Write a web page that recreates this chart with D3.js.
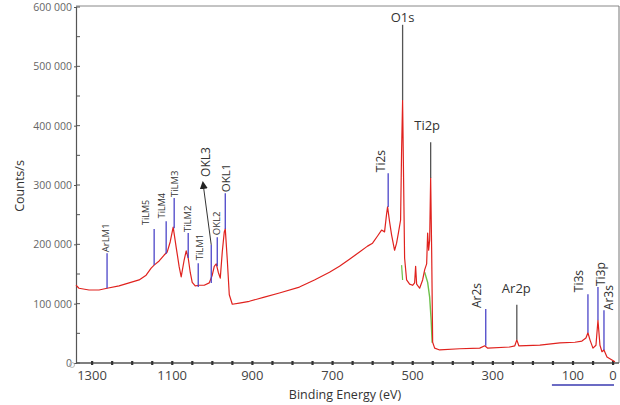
<!DOCTYPE html>
<html><head><meta charset="utf-8">
<script src="https://cdn.jsdelivr.net/npm/d3@7"></script>
<style>body{margin:0;background:#fff}svg{display:block}</style>
</head><body>
<svg id="c" width="620" height="405"></svg>
<script>
// ---- data ----
const energy = [1340,1332.5,1307.5,1282.5,1262.5,1232.5,1207.5,1182.5,1165,1152.5,1145,1132.5,1120,1112.5,1105,1097.5,1090,1082.5,1077.5,1070,1065,1060,1055,1050,1042.5,1032.5,1020,1007.5,1000,995,990,985,980,975,970,967.5,962.5,957.5,950,932.5,907.5,870,832.5,782.5,745,707.5,682.5,657.5,632.5,612.5,600,587.5,577.5,570,565,562.5,557.5,552.5,545,540,535,530,527.5,525,522.5,520,515,507.5,500,495,492.5,490,482.5,475,470,465,462.5,460,457.5,455,452.5,450,445,432.5,382.5,332.5,320,312.5,257.5,245,240,235,182.5,132.5,95,77.5,67.5,62.5,57.5,50,42.5,37.5,32.5,27.5,22.5,15,2.5,-5];
const counts = [131000,126000,123000,123000,126000,130000,135000,140000,148000,160000,165000,172000,182000,187000,204000,229000,195000,162000,145000,174000,189000,177000,153000,136000,130000,131000,131000,135000,148000,163000,167000,153000,143000,187000,221000,226000,174000,115000,99000,101000,104000,111000,118000,128000,140000,153000,163000,175000,187000,197000,202000,214000,224000,221000,251000,263000,238000,216000,190000,202000,221000,241000,359000,443000,308000,177000,140000,133000,131000,135000,163000,133000,126000,140000,157000,167000,219000,190000,207000,312000,190000,35000,25000,22000,24000,25000,29000,25000,27000,29000,39000,29000,30000,34000,35000,37000,42000,51000,39000,25000,30000,72000,30000,19000,22000,10000,5000,2000];
const bgEnergy = [470,462.5,457.5,453.75,451.25];
const bgCounts = [153000,136000,111000,72000,34000];
const bg2Energy = [527.5,525];
const bg2Counts = [165000,140000];

const peakNames  = ["ArLM1","TiLM5","TiLM4","TiLM3","TiLM2","TiLM1","OKL3","OKL2","OKL1","Ti2s","O1s","Ti2p","Ar2s","Ar2p","Ti3s","Ti3p","Ar3s"];
const peakEnergy = [1262.5,1145,1115,1095,1060,1035,1002.5,987.5,967.5,561,525,455,317.5,240,62.5,37.5,22.5];
const peakTop    = [185000,226000,239000,278000,219000,168000,199000,212000,286000,320000,570000,372000,91000,98000,116000,128000,89000];
const peakBase   = [126000,165000,184000,227000,177000,128000,135000,163000,226000,263000,443000,312000,29000,39000,51000,72000,22000];

const yTicks = [0,100000,200000,300000,400000,500000,600000];
const xTickLabels = [1300,1100,900,700,500,300,100,0];

// ---- layout / style (not data) ----
const labelStyle = {
  ArLM1:{rot:true,dx:-1.5,gap:1,fs:9.5,c:"#4b45c8"},
  TiLM5:{rot:true,dx:-8,gap:4,fs:9,c:"#4b45c8"},
  TiLM4:{rot:true,dx:-4.5,gap:3,fs:9,c:"#4b45c8"},
  TiLM3:{rot:true,dx:0.5,gap:1,fs:9.5,c:"#4b45c8"},
  TiLM2:{rot:true,dx:-1,gap:1,fs:9.5,c:"#4b45c8"},
  TiLM1:{rot:true,dx:1.5,gap:3,fs:9.5,c:"#4b45c8"},
  OKL3:{rot:true,dx:-5,gap:70,fs:12,c:"#4b45c8",arrow:[-8,-63]},
  OKL2:{rot:true,dx:-1,gap:2,fs:9.5,c:"#4b45c8"},
  OKL1:{rot:true,dx:0.5,gap:1,fs:11.5,c:"#6f68d8"},
  Ti2s:{rot:true,dx:-7,gap:1,fs:12,c:"#4b45c8"},
  O1s:{rot:false,dx:0,gap:3,fs:13,c:"#555"},
  Ti2p:{rot:false,dx:-3.5,gap:12,fs:13,c:"#555"},
  Ar2s:{rot:true,dx:-9,gap:1,fs:12,c:"#4b45c8"},
  Ar2p:{rot:false,dx:-0.5,gap:12,fs:13,c:"#444"},
  Ti3s:{rot:true,dx:-9,gap:2,fs:12,c:"#4b45c8"},
  Ti3p:{rot:true,dx:3,gap:1,fs:12,c:"#4b45c8"},
  Ar3s:{rot:true,dx:5,gap:0,fs:12,c:"#4b45c8"}
};

const svg = d3.select("#c");
const L=76, R=619, T=7, B=363;
const x = d3.scaleLinear().domain([1340,-15]).range([L,R]);
const y = d3.scaleLinear().domain([0,600000]).range([B,T]);
const font = "'Open Sans', 'Liberation Sans', sans-serif";

// frame
svg.append("line").attr("x1",L).attr("x2",R).attr("y1",T-1).attr("y2",T-1).attr("stroke","#888").attr("stroke-width",1);
svg.append("line").attr("x1",R).attr("x2",R).attr("y1",T-1).attr("y2",B).attr("stroke","#777").attr("stroke-width",1);

// y axis
const yMinor = d3.range(0,600001,50000);
svg.append("g").selectAll("line").data(yMinor).join("line")
  .attr("x1",L).attr("x2",L+4).attr("y1",d=>y(d)).attr("y2",d=>y(d)).attr("stroke","#555");
const yAx = svg.append("g").attr("transform",`translate(${L},0)`)
  .call(d3.axisLeft(y).tickValues(yTicks).tickSize(2).tickPadding(2)
    .tickFormat(d=>d3.format(",")(d).replace(/,/g," ")));
yAx.select(".domain").attr("stroke","#555").attr("stroke-width",1.2);
yAx.selectAll(".tick line").attr("stroke","#555");
yAx.selectAll("text").attr("font-family",font).attr("font-size",10.5).attr("fill","#666");

// x axis
const xTickVals = d3.range(0,1301,50);
svg.append("line").attr("x1",L).attr("x2",R).attr("y1",B).attr("y2",B).attr("stroke","#555").attr("stroke-width",1.3);
svg.append("g").selectAll("rect").data(xTickVals).join("rect")
  .attr("x",d=>x(d)-1).attr("y",B-2).attr("width",2.2).attr("height",4).attr("fill","#333");
svg.append("g").selectAll("text").data(xTickLabels).join("text")
  .attr("x",d=>x(d)).attr("y",B+17).attr("text-anchor","middle")
  .attr("font-family",font).attr("font-size",13).attr("fill","#444").text(d=>d);
svg.append("line").attr("x1",x(100)-21).attr("x2",x(0)+1).attr("y1",B+22).attr("y2",B+22).attr("stroke","#3a3ab0").attr("stroke-width",1.3);
svg.append("circle").attr("cx",L-4).attr("cy",B+2).attr("r",2.5).attr("fill","none").attr("stroke","#bbb");

// axis titles
svg.append("text").attr("x",345).attr("y",399).attr("text-anchor","middle")
  .attr("font-family",font).attr("font-size",12.5).attr("fill","#333").text("Binding Energy (eV)");
svg.append("text").attr("transform","translate(24,186) rotate(-90)").attr("text-anchor","middle")
  .attr("font-family",font).attr("font-size",12.5).attr("fill","#333").text("Counts/s");

// spectrum
const line = d3.line().x(d=>x(d[0])).y(d=>y(d[1]));
svg.append("path").datum(d3.zip(bgEnergy,bgCounts)).attr("d",line).attr("fill","none").attr("stroke","#6cc04a").attr("stroke-width",1.4);
svg.append("path").datum(d3.zip(bg2Energy,bg2Counts)).attr("d",line).attr("fill","none").attr("stroke","#6cc04a").attr("stroke-width",1.2);
svg.append("path").datum(d3.zip(energy,counts)).attr("d",line).attr("fill","none").attr("stroke","#e0221e").attr("stroke-width",1.2).attr("stroke-linejoin","round");

// markers
svg.append("defs").append("marker").attr("id","ah").attr("viewBox","0 0 10 10").attr("refX",5).attr("refY",5)
  .attr("markerWidth",8).attr("markerHeight",8).attr("orient","auto")
  .append("path").attr("d","M0,0 L10,5 L0,10 z").attr("fill","#222");

peakNames.forEach((n,i)=>{
  const s = labelStyle[n];
  const px = x(peakEnergy[i]), pt = y(peakTop[i]), pb = y(peakBase[i]);
  svg.append("line").attr("x1",px).attr("x2",px).attr("y1",pt).attr("y2",pb)
    .attr("stroke", s.rot ? "#4b45c8" : "#555").attr("stroke-width",1.3);
  let ly = pt - s.gap, lx = px + s.dx;
  if (s.arrow){
    const ax = px + s.arrow[0], ay = pt + s.arrow[1];
    svg.append("line").attr("x1",px).attr("y1",pt).attr("x2",ax).attr("y2",ay+3)
      .attr("stroke","#333").attr("stroke-width",1).attr("marker-end","url(#ah)");
    lx = px + s.dx; ly = ay - 5;
  }
  if (s.rot){
    svg.append("text").attr("transform",`translate(${lx},${ly}) rotate(-90)`)
      .attr("dy","0.35em").attr("text-anchor","start")
      .attr("font-family",font).attr("font-size",s.fs).attr("fill","#333").text(n);
  } else {
    svg.append("text").attr("x",lx).attr("y",ly).attr("text-anchor","middle")
      .attr("font-family",font).attr("font-size",s.fs).attr("fill","#333").text(n);
  }
});
</script>
</body></html>
